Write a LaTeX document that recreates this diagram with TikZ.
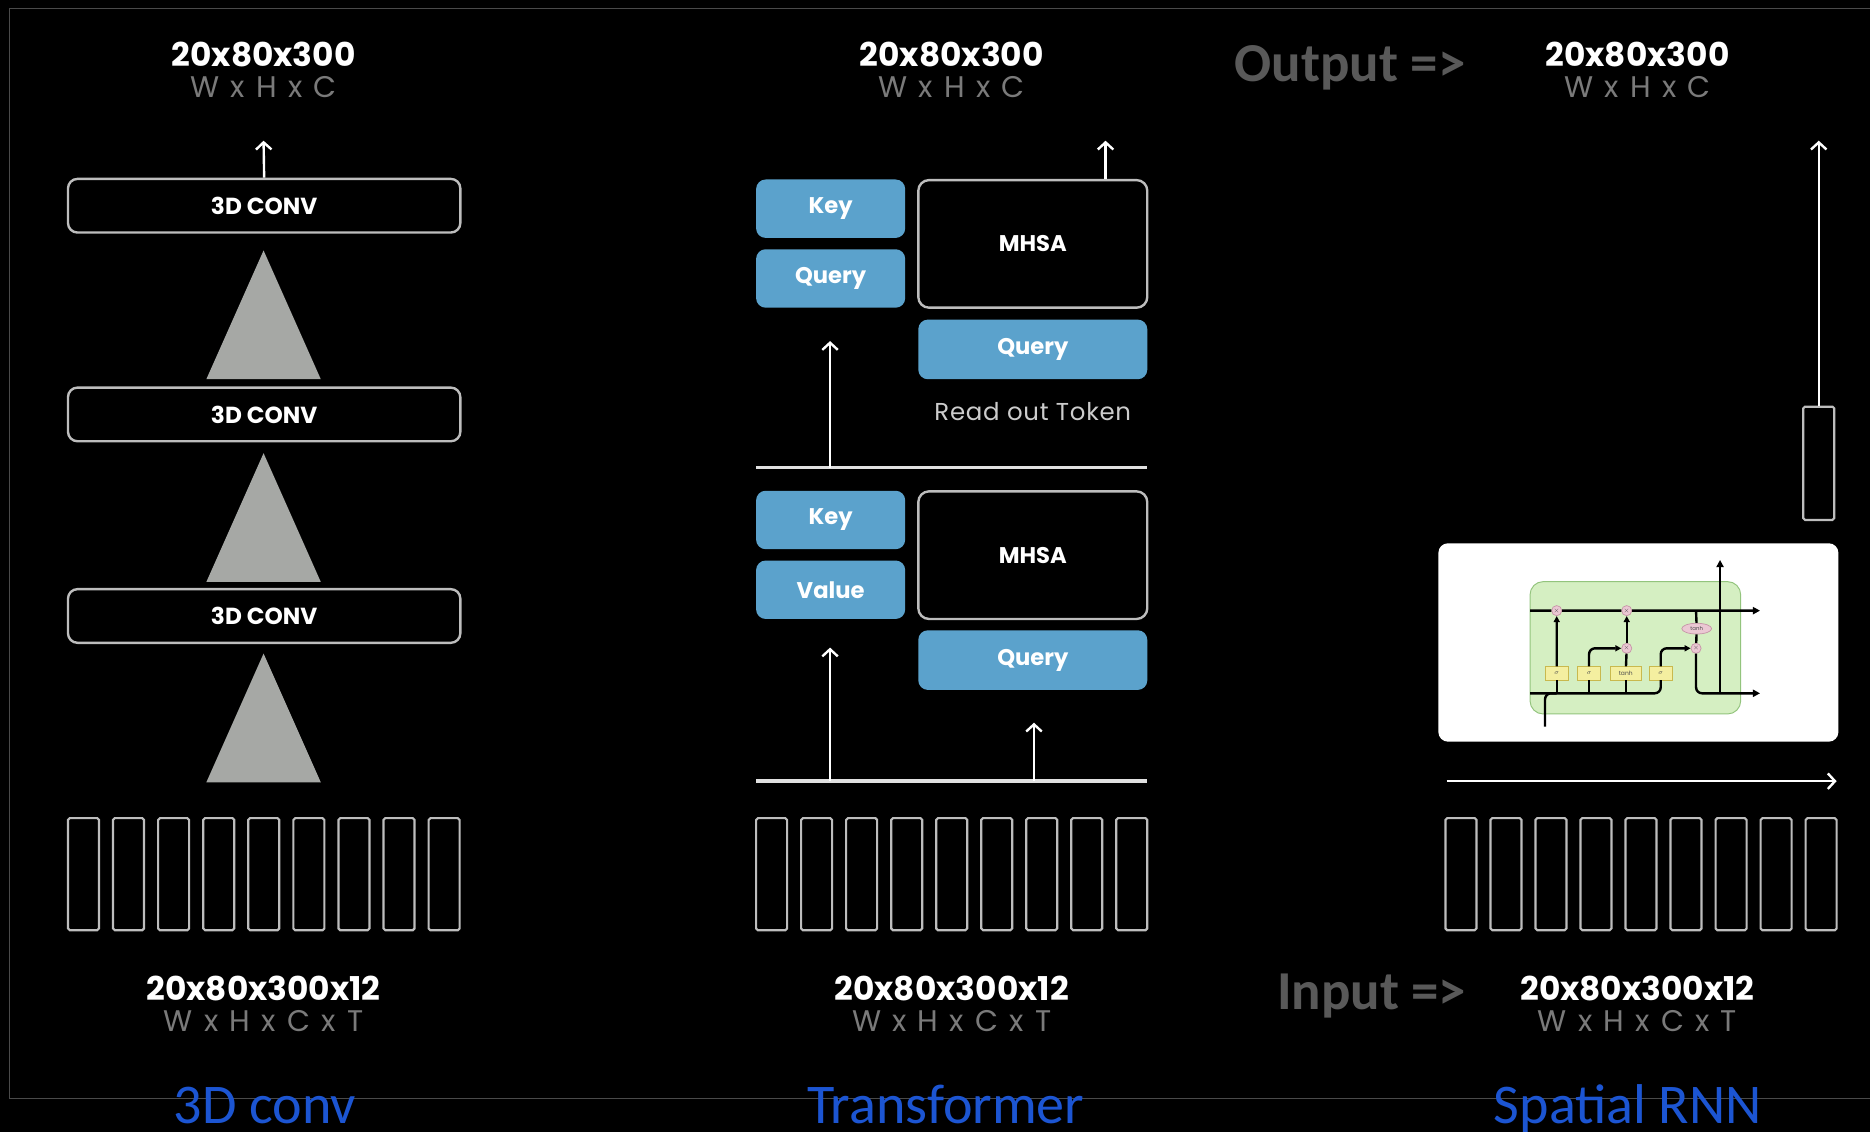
\documentclass[tikz,border=0pt]{standalone}
\usepackage{fontspec}
\setmainfont{Poppins}
\newfontfamily\heavy{Poppins}
\newfontfamily\spaced{Poppins}[LetterSpace=11]
\newfontfamily\calfont{Carlito}
\usetikzlibrary{arrows.meta,positioning,shapes.geometric}

\definecolor{edge}{HTML}{BDBDBD}
\definecolor{dimtext}{HTML}{7A7A7A}
\definecolor{tri}{HTML}{A6A8A5}
\definecolor{qkvblue}{HTML}{5BA2CC}
\definecolor{note}{HTML}{595959}
\definecolor{caption}{HTML}{1C55D2}
\definecolor{rule}{HTML}{4A4A4A}
\definecolor{cellgreen}{HTML}{D5EFC2}
\definecolor{celledge}{HTML}{93C47D}
\definecolor{gateyellow}{HTML}{F4EFA0}
\definecolor{gateedge}{HTML}{C9B94E}
\definecolor{mulpink}{HTML}{EBC8D3}
\definecolor{muledge}{HTML}{C795A8}

\tikzset{
  dims/.style={text=white, inner sep=0pt, font=\heavy\bfseries\fontsize{27.5}{30}\selectfont},
  axes/.style={text=dimtext, inner sep=0pt, font=\spaced\fontsize{25}{26}\selectfont},
  conv/.style={draw=edge, line width=2pt, rounded corners=8pt, minimum width=329pt,
    minimum height=45pt, text=white, font=\heavy\bfseries\fontsize{19.5}{21}\selectfont},
  qkv/.style={fill=qkvblue, rounded corners=8pt, minimum width=125pt, minimum height=49pt,
    text=white, font=\heavy\bfseries\fontsize{19}{21}\selectfont},
  wide/.style={minimum width=192pt, minimum height=50pt},
  attn/.style={draw=edge, line width=2pt, rounded corners=9pt, minimum width=192pt,
    minimum height=107pt, text=white, font=\heavy\bfseries\fontsize{19}{21}\selectfont},
  tframe/.style={draw=edge, line width=1.8pt, rounded corners=1.5pt, minimum width=26pt,
    minimum height=94pt, inner sep=0pt},
  up/.style={draw=white, line width=2pt},
  bar/.style={draw=white!88!black, line width=3pt},
  arrowtext/.style={text=note, font=\calfont\bfseries\fontsize{46}{48}\selectfont},
  caption/.style={text=caption, anchor=base, font=\calfont\fontsize{47}{50}\selectfont},
  % pieces of the LSTM cell
  wire/.style={line width=2pt, black},
  mul/.style={circle, draw=muledge, fill=mulpink, line width=0.6pt, minimum size=8.5pt,
    inner sep=0pt, font=\fontsize{4.5}{4.5}\selectfont, text=black!70},
  gate/.style={draw=gateedge, fill=gateyellow, line width=0.6pt, minimum width=19pt,
    minimum height=11pt, inner sep=0pt, font=\fontsize{5}{5}\selectfont, text=black!70},
  squash/.style={ellipse, draw=muledge, fill=mulpink, line width=0.6pt, minimum width=25pt,
    minimum height=9pt, inner sep=0pt, font=\fontsize{4.5}{5}\selectfont, text=black!70},
}

\begin{document}
\begin{tikzpicture}[x=1pt, y=-1pt, >={Straight Barb[length=6pt,width=13pt]}]
\useasboundingbox[fill=black] (0,0) rectangle (1568,949);
\draw[rule, line width=1.2pt] (1568,7) -- (8,7) -- (8,921) -- (1568,921);

% input frames, nine per column
\foreach \i in {0,...,8} {
  \node[tframe] (fa\i) at (70+37.8*\i,733) {};
  \node[tframe] (fb\i) at (647+37.75*\i,733) {};
  \node[tframe] (fc\i) at (1225+37.75*\i,733) {};
}

% 3D conv
\node[dims] (o1) at (221,46) {20x80x300};
\node[axes] (a1) at (221,73) {W x H x C};
\node[conv] (c1) at (221.5,172.5) {3D CONV};
\node[conv] (c2) at (221.5,347.5) {3D CONV};
\node[conv] (c3) at (221.5,516.5) {3D CONV};
\foreach \y in {210,380,548}
  \fill[tri] (173,\y+108) -- (221,\y) -- (269,\y+108) -- cycle;
\coordinate (t1) at (221,118);
\draw[up,->] (c1.north) -- (t1);
\node[dims] (i1) at (221,829) {20x80x300x12};
\node[axes] (d1) at (221,856) {W x H x C x T};

% transformer
\node[dims] (o2) at (798,46) {20x80x300};
\node[axes] (a2) at (798,73) {W x H x C};
\node[qkv] (k2) at (696.5,175) {Key};
\node[qkv] (q2) at (696.5,233.5) {Query};
\node[attn] (m2) at (866,204.5) {MHSA};
\node[qkv,wide] (r2) at (866,293) {Query};
\node[text=white!80!black, font=\spaced\fontsize{20.5}{21}\selectfont\addfontfeature{LetterSpace=3}]
  (rt) at (866,345) {Read out Token};
\coordinate (t2) at (927,118);
\draw[up,->] (m2.north -| t2) -- (t2);
\coordinate (ul) at (634,392);
\coordinate (ur) at (962,392);
\draw[bar] (ul) -- (ur);
\coordinate (u1) at (696,392);
\coordinate (u2) at (696,286);
\draw[up,->] (u1) -- (u2);

\node[qkv] (k1) at (696.5,436) {Key};
\node[qkv] (v1) at (696.5,494.5) {Value};
\node[attn] (m1) at (866,465.5) {MHSA};
\node[qkv,wide] (r1) at (866,553.5) {Query};
\coordinate (ll) at (634,655);
\coordinate (lr) at (962,655);
\draw[bar] (ll) -- (lr);
\coordinate (l1) at (696,655);
\coordinate (l2) at (696,543);
\coordinate (l3) at (867,655);
\coordinate (l4) at (867,606);
\draw[up,->] (l1) -- (l2);
\draw[up,->] (l3) -- (l4);
\node[dims] (i2) at (798,829) {20x80x300x12};
\node[axes] (d2) at (798,856) {W x H x C x T};

% spatial RNN
\node[arrowtext] (outl) at (1132,57) {Output =>};
\node[dims] (o3) at (1373,46) {20x80x300};
\node[axes] (a3) at (1373,73) {W x H x C};
\node[tframe, minimum height=95pt] (h3) at (1525,388.5) {};
\coordinate (t3) at (1525,118);
\draw[up,->] (h3.north) -- (t3);

\begin{scope}[shift={(1190.7,436)}, scale=0.2795]
\fill[white, rounded corners=8pt] (55,70) rectangle (1255,665);
\draw[celledge, fill=cellgreen, line width=0.8pt, rounded corners=11pt] (330,185) rectangle (962,582);
\node[mul] (x1) at (410,272) {$\times$};
\node[mul] (x2) at (620,272) {$\times$};
\node[mul] (x3) at (620,385) {$\times$};
\node[mul] (x4) at (828,385) {$\times$};
\node[squash] (th) at (830,326) {tanh};
\node[gate] (s1) at (410,460) {$\sigma$};
\node[gate] (s2) at (507,460) {$\sigma$};
\node[gate, minimum width=26pt] (g) at (617,460) {tanh};
\node[gate] (s3) at (722,460) {$\sigma$};
\coordinate (cin) at (330,272);
\coordinate (cout) at (1020,272);
\coordinate (hin) at (330,520);
\coordinate (xin) at (375,620);
\coordinate (hout) at (1020,520);
\coordinate (hup) at (900,120);
\draw[wire, -{Triangle[length=6pt,width=6pt]}] (cin) -- (x1) -- (x2) -- (cout);
\draw[wire, rounded corners=5pt] (hin) -| (s3.south);
\draw[wire, rounded corners=5pt] (xin) |- (s1.south |- hin);
\draw[wire] (s1.south |- hin) -- (s1.south);
\draw[wire] (s2.south |- hin) -- (s2.south);
\draw[wire] (g.south |- hin) -- (g.south);
\draw[wire, -{Triangle[length=5pt,width=5pt]}] (s1) -- (x1);
\draw[wire, -{Triangle[length=5pt,width=5pt]}, rounded corners=5pt] (s2.north) |- (x3);
\draw[wire] (g) -- (x3);
\draw[wire, -{Triangle[length=5pt,width=5pt]}] (x3) -- (x2);
\draw[wire, -{Triangle[length=5pt,width=5pt]}, rounded corners=5pt] (s3.north) |- (x4);
\draw[wire] (x4 |- cin) -- (th);
\draw[wire] (th) -- (x4);
\draw[wire, -{Triangle[length=6pt,width=6pt]}, rounded corners=5pt] (x4) |- (hout);
\draw[wire, -{Triangle[length=6pt,width=6pt]}] (hup |- hout) -- (hup);
\end{scope}

\coordinate (sl) at (1213,655);
\coordinate (sr) at (1540,655);
\draw[up,->] (sl) -- (sr);
\node[arrowtext] (inl) at (1150,835) {Input =>};
\node[dims] (i3) at (1373,829) {20x80x300x12};
\node[axes] (d3) at (1373,856) {W x H x C x T};

% column captions
\node[caption] (n1) at (222,942) {3D conv};
\node[caption] (n2) at (793,942) {Transformer};
\node[caption] (n3) at (1365,942) {Spatial RNN};
\end{tikzpicture}
\end{document}
